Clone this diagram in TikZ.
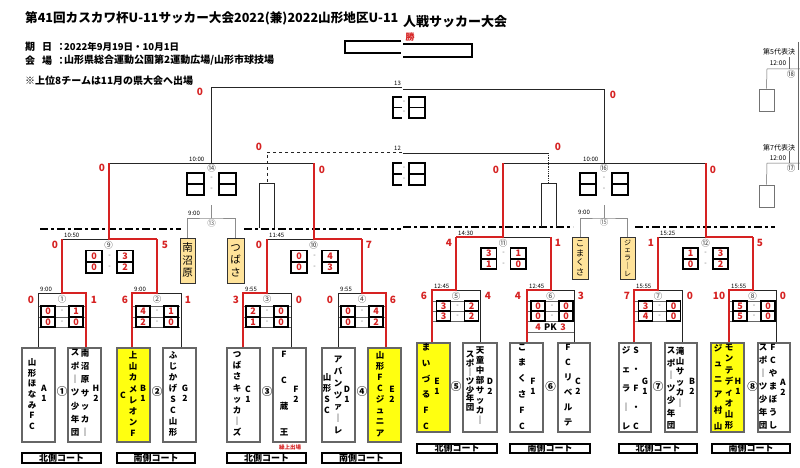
\documentclass[tikz,border=0pt]{standalone}
\usepackage{fontspec}
\setmainfont{Noto Sans CJK JP}
\definecolor{rd}{HTML}{D62222}
\definecolor{orng}{HTML}{FFE39A}
\definecolor{yel}{HTML}{FFFF10}
\newcounter{cc}
\newcommand\fs[2]{\fontsize{#1}{#2}\selectfont}
\newcommand\lsl{\lineskiplimit-20pt\lineskip0pt\relax}
\newcommand\scell[5]{\stepcounter{cc}\node[cellbox,minimum width={(#2)-(#1)},minimum height={(#4)-(#3)}] (c\arabic{cc}) at ({((#1)+(#2))/2},{((#3)+(#4))/2}) {#5};}
\newcommand\srow[7]{\scell{#1-#5}{#1-#4}{#2}{#3}{#6}\scell{#1+#4}{#1+#5}{#2}{#3}{#7}\stepcounter{cc}\node[dashm] (c\arabic{cc}) at (#1,{((#2)+(#3))/2}) {-};}
\newcommand\tbox[6]{\node[teambox,fill=#6,minimum width={(#3)-(#2)},minimum height={(#5)-(#4)}] (#1) at ({((#2)+(#3))/2},{((#4)+(#5))/2}) {};}
\newcommand\court[6]{\node[court,minimum width={(#3)-(#2)},minimum height={(#5)-(#4)}] (#1) at ({((#2)+(#3))/2},{((#4)+(#5))/2}) {#6};}
\begin{document}
\begin{tikzpicture}[x=1pt,y=-1pt,
 ln/.style={draw=black!85,line width=0.8pt},
 rl/.style={draw=rd,line width=2pt},
 gl/.style={draw=black!45,line width=0.8pt},
 thinl/.style={draw=black!60,line width=0.5pt},
 cellbox/.style={draw=black,line width=1.1pt,inner sep=0,text=rd,font=\bfseries\fs{9}{9}},
 dashm/.style={inner sep=0,font=\fs{7}{7},text=black!60},
 lab/.style={inner sep=0,text=rd,font=\bfseries\fs{10}{10}},
 tim/.style={inner sep=0,anchor=south west,font=\fs{6}{6}},
 cnum/.style={inner sep=0,font=\fs{8.5}{8.5},text=black!75},
 bnum/.style={inner sep=0,font=\bfseries\fs{10.5}{10.5}},
 teambox/.style={draw=black!60,line width=2pt,inner sep=0},
 vt/.style={align=center,inner sep=0,font=\bfseries\fs{8.5}{#1}\lsl},
 court/.style={draw=black,line width=1.6pt,inner sep=0,font=\bfseries\fs{9}{9}},
 obox/.style={draw=black!80,line width=0.8pt,fill=orng,inner sep=0,align=center},
 ddot/.style={line width=2pt,dash pattern=on 8pt off 3pt on 3pt off 3pt},
 info/.style={inner sep=0,anchor=west,font=\bfseries\fs{10}{10}},
 small/.style={inner sep=0,font=\fs{6.5}{6.5}}]
\useasboundingbox[fill=white] (0,0) rectangle (800,468);

% ---------- header ----------
\begin{scope}
\clip (0,0) rectangle (402,35);
\node[inner sep=0,anchor=west,font=\bfseries\fs{12.6}{12.6}] (title) at (25,18) {第41回カスカワ杯U-11サッカー大会2022(兼)2022山形地区U-11};
\end{scope}
\node[inner sep=0,anchor=west,font=\bfseries\fs{13}{13}] (title2) at (403,22) {人戦サッカー大会};
\node[info] (i1) at (25,47) {期};
\node[info] (i2) at (42,47) {日};
\node[info] (i3) at (56,47) {：};
\node[info,font=\bfseries\fs{9.5}{9.5}] (i4) at (64,47) {2022年9月19日・10月1日};
\node[info] (i5) at (25,60.5) {会};
\node[info] (i6) at (42,60.5) {場};
\node[info] (i7) at (56,60.5) {：};
\node[info] (i8) at (64,60.5) {山形県総合運動公園第2運動広場/山形市球技場};
\node[info] (i9) at (25,81) {※上位8チームは11月の県大会へ出場};
\draw[line width=2pt] (401,41.5) -- (345,41.5) -- (345,53.5) -- (401,53.5);
\draw[line width=2pt] (403,44) -- (472,44) -- (472,57) -- (403,57);
\node[inner sep=0,text=rd,font=\bfseries\fs{9}{9}] (win) at (410,37) {勝};

% ---------- coordinates ----------
\coordinate (m1L) at (38,293); \coordinate (m1C) at (62,293); \coordinate (m1R) at (86,293);
\coordinate (m2L) at (132,293); \coordinate (m2C) at (157,293); \coordinate (m2R) at (181,293);
\coordinate (m3L) at (243,293); \coordinate (m3C) at (267,293); \coordinate (m3R) at (291,293);
\coordinate (m4L) at (338,293); \coordinate (m4C) at (362,293); \coordinate (m4R) at (386,293);
\coordinate (m9L) at (62,239); \coordinate (m9C) at (108.5,239); \coordinate (m9R) at (157,239);
\coordinate (m10L) at (267,239); \coordinate (m10C) at (313.5,239); \coordinate (m10R) at (362,239);
\coordinate (m14L) at (108.5,163); \coordinate (m14C) at (211.5,163); \coordinate (m14R) at (313.5,163);
\coordinate (fL) at (211.5,87.5); \coordinate (fE) at (402,87.5);
\coordinate (tE) at (402,152); \coordinate (tL) at (267,152); \coordinate (tU) at (267,183);
\coordinate (tUa) at (259,183); \coordinate (tUb) at (274,183); \coordinate (tUa2) at (259,228); \coordinate (tUb2) at (274,228);
\coordinate (m5L) at (432,290); \coordinate (m5C) at (456,290); \coordinate (m5R) at (480,290);
\coordinate (m6L) at (527,290); \coordinate (m6C) at (550.5,290); \coordinate (m6R) at (574,290);
\coordinate (m7L) at (634,290); \coordinate (m7C) at (658,290); \coordinate (m7R) at (682,290);
\coordinate (m8L) at (729,290); \coordinate (m8C) at (752.5,290); \coordinate (m8R) at (776,290);
\coordinate (m11L) at (456,237); \coordinate (m11C) at (503,237); \coordinate (m11R) at (550.5,237);
\coordinate (m12L) at (658,237); \coordinate (m12C) at (705.5,237); \coordinate (m12R) at (752.5,237);
\coordinate (m16L) at (503,163); \coordinate (m16C) at (604,163); \coordinate (m16R) at (705.5,163);
\coordinate (gL) at (604,89.5); \coordinate (gE) at (402.5,89.5);
\coordinate (uE) at (402.5,153); \coordinate (uL) at (548,153); \coordinate (uU) at (548,183);
\coordinate (uUa) at (541,183); \coordinate (uUb) at (556,183); \coordinate (uUa2) at (541,227); \coordinate (uUb2) at (556,227);
\coordinate (m13) at (211.5,218); \coordinate (m13t) at (211.5,205);
\coordinate (m15) at (604,218); \coordinate (m15t) at (604,205);

% ---------- team boxes ----------
\tbox{t1l}{22}{55}{348}{442}{white}
\tbox{t1r}{68}{101}{348}{442}{white}
\tbox{t2l}{117}{150}{348}{442}{yel}
\tbox{t2r}{163}{196}{348}{442}{white}
\tbox{t3l}{227}{260}{348}{442}{white}
\tbox{t3r}{273}{306}{348}{442}{white}
\tbox{t4l}{322}{355}{348}{442}{white}
\tbox{t4r}{368}{401}{348}{442}{yel}
\tbox{t5l}{417}{450}{343}{432}{yel}
\tbox{t5r}{463}{497}{343}{432}{white}
\tbox{t6l}{510}{543}{343}{432}{white}
\tbox{t6r}{558}{590}{343}{432}{white}
\tbox{t7l}{619}{651}{343}{432}{white}
\tbox{t7r}{665}{697}{343}{432}{white}
\tbox{t8l}{711}{744}{343}{432}{yel}
\tbox{t8r}{758}{790}{343}{432}{white}

% team names
\node[vt=10.7] (n1a) at (32,394) {山\\形\\ほ\\な\\み\\F\\C};
\node[vt=10] (s1a) at (44,393) {A\\1};
\node[vt=13.3] (n1b) at (85,393) {南\\沼\\原\\サ\\ッ\\カ\\｜};
\node[vt=13.3] (n1c) at (75,393) {ス\\ポ\\｜\\ツ\\少\\年\\団};
\node[vt=10] (s1b) at (96,393) {H\\2};
\node[vt=11.1] (n2a) at (133,394) {上\\山\\カ\\メ\\レ\\オ\\ン\\F};
\node[vt=10] (n2b) at (123,395) {C};
\node[vt=10] (s2a) at (143,393) {B\\1};
\node[vt=11.1] (n2c) at (173,394) {ふ\\じ\\か\\げ\\S\\C\\山\\形};
\node[vt=10] (s2b) at (185,393) {G\\2};
\node[vt=11.1] (n3a) at (237,394) {つ\\ば\\さ\\キ\\ッ\\カ\\｜\\ズ};
\node[vt=10] (s3a) at (248,394) {C\\1};
\node[vt=26] (n3b) at (284,394) {F\\C\\蔵\\王};
\node[vt=10] (s3b) at (296,394) {F\\2};
\node[inner sep=0,text=rd,font=\bfseries\fs{5.5}{5.5}] (kuri) at (290,447) {繰上出場};
\node[vt=11.7] (n4a) at (338,395) {ア\\バ\\ン\\ツ\\ァ\\｜\\レ};
\node[vt=11] (n4b) at (327,393.5) {山\\形\\S\\C};
\node[vt=10] (s4a) at (347,394) {D\\1};
\node[vt=11.1] (n4c) at (380,394) {山\\形\\F\\C\\ジ\\ュ\\ニ\\ア};
\node[vt=10] (s4b) at (392,394) {E\\2};

\node[vt=15.8] (n5a) at (426,386.5) {ま\\い\\づ\\る\\F\\C};
\node[vt=10] (s5a) at (437,386) {E\\1};
\node[vt=9.9] (n5b) at (480,385.5) {天\\童\\中\\部\\サ\\ッ\\カ\\｜};
\node[vt=8.8] (n5c) at (470,381.5) {ス\\ポ\\｜\\ツ\\少\\年\\団};
\node[vt=10] (s5b) at (490,386) {D\\2};
\node[vt=15.8] (n6a) at (522,386.5) {こ\\ま\\く\\さ\\F\\C};
\node[vt=10] (s6a) at (533,386) {F\\1};
\node[vt=15] (n6b) at (568,385.5) {F\\C\\リ\\ベ\\ル\\テ};
\node[vt=10] (s6b) at (578,386) {C\\2};
\node[vt=19] (n7a) at (626,388) {ジ\\ェ\\ラ\\｜\\レ};
\node[vt=19] (n7b) at (636,388) {S\\・\\F\\・\\C};
\node[vt=10] (s7a) at (645,386) {G\\1};
\node[vt=10.4] (n7c) at (680,377) {滝\\山\\サ\\ッ\\カ\\｜};
\node[vt=12.5] (n7d) at (671,388.5) {ス\\ポ\\｜\\ツ\\少\\年\\団};
\node[vt=10] (s7b) at (692,386) {B\\2};
\node[vt=11.1] (n8a) at (729,387) {モ\\ン\\テ\\デ\\ィ\\オ\\山\\形};
\node[vt=15.6] (n8b) at (718,387) {ジ\\ュ\\ニ\\ア\\村\\山};
\node[vt=10] (s8a) at (738,386) {H\\1};
\node[vt=13] (n8c) at (773,387) {F\\C\\や\\ま\\ぼ\\う\\し};
\node[vt=13] (n8d) at (763,387) {ス\\ポ\\｜\\ツ\\少\\年\\団};
\node[vt=10] (s8b) at (783,387) {A\\2};

% big circled numbers
\node[bnum] (b1) at (62,392) {①};
\node[bnum] (b2) at (157,392) {②};
\node[bnum] (b3) at (267,392) {③};
\node[bnum] (b4) at (362,392) {④};
\node[bnum] (b5) at (456,387) {⑤};
\node[bnum] (b6) at (550.5,387) {⑥};
\node[bnum] (b7) at (658,387) {⑦};
\node[bnum] (b8) at (752.5,387) {⑧};

% court labels
\court{k1}{22}{101}{453}{463}{北側コート}
\court{k2}{117}{195}{453}{463}{南側コート}
\court{k3}{227}{306}{453}{463}{北側コート}
\court{k4}{322}{401}{453}{463}{南側コート}
\court{k5}{417}{497}{444}{453}{北側コート}
\court{k6}{510}{590}{444}{453}{南側コート}
\court{k7}{619}{697}{444}{453}{北側コート}
\court{k8}{712}{790}{444}{453}{南側コート}

% ---------- match box rows ----------
\foreach \cx in {38,132,243,338} {\foreach \yy in {306,317,327} \draw[thinl] (\cx,\yy) -- (\cx+48,\yy);}
\foreach \cx in {432,527,634,729} {\foreach \yy in {301,311,321} \draw[thinl] (\cx,\yy) -- (\cx+47,\yy);}
\draw[thinl] (527,332) -- (574,332);

% ---------- dash-dot lines ----------
\draw[ddot] (40,229) -- (181,229);
\draw[ddot] (244,229) -- (401,229);
\draw[ddot] (403,227) -- (573,227);
\draw[ddot] (635,227) -- (775,227);

% ---------- black bracket lines ----------
\draw[ln] (m1L|-t1l.north) -- (m1L) -- (m1C);
\draw[ln] (m2R|-t2r.north) -- (m2R) -- (m2C);
\draw[ln] (m3R|-t3r.north) -- (m3R) -- (m3C);
\draw[ln] (m4L|-t4l.north) -- (m4L) -- (m4C);
\draw[ln] (m9L) -- (m9C);
\draw[ln] (m10L) -- (m10C);
\draw[ln] (m14L) -- (m14R);
\draw[ln] (m14C) -- (fL) -- (fE);
\draw[ln,dashed] (tE) -- (tL) -- (tU);
\draw[ln] (tUa2) -- (tUa) -- (tUb) -- (tUb2);
\draw[ln] (m5R|-t5r.north) -- (m5R) -- (m5C);
\draw[ln] (m6R|-t6r.north) -- (m6R) -- (m6C);
\draw[ln] (m7R|-t7r.north) -- (m7R) -- (m7C);
\draw[ln] (m8R|-t8r.north) -- (m8R) -- (m8C);
\draw[ln] (m11R) -- (m11C);
\draw[ln] (m12L) -- (m12C);
\draw[ln] (m16L) -- (m16R);
\draw[ln] (m16C) -- (gL) -- (gE);
\draw[ln] (uE) -- (uL);
\draw[ln,densely dotted] (uL) -- (uU);
\draw[ln] (uUa2) -- (uUa) -- (uUb) -- (uUb2);

% ---------- red winner lines ----------
\draw[rl] (m1R|-t1r.north) -- (m1R) -- (m1C) -- (m9L);
\draw[rl] (m2L|-t2l.north) -- (m2L) -- (m2C) -- (m9R);
\draw[rl] (m3L|-t3l.north) -- (m3L) -- (m3C) -- (m10L);
\draw[rl] (m4R|-t4r.north) -- (m4R) -- (m4C) -- (m10R);
\draw[rl] (m9R) -- (m9C) -- (m14L);
\draw[rl] (m10R) -- (m10C) -- (m14R);
\draw[rl] (m5L|-t5l.north) -- (m5L) -- (m5C) -- (m11L);
\draw[rl] (m6L|-t6l.north) -- (m6L) -- (m6C) -- (m11R);
\draw[rl] (m7L|-t7l.north) -- (m7L) -- (m7C) -- (m12L);
\draw[rl] (m8L|-t8l.north) -- (m8L) -- (m8C) -- (m12R);
\draw[rl] (m11L) -- (m11C) -- (m16L);
\draw[rl] (m12R) -- (m12C) -- (m16R);

% ---------- consolation (13, 15) ----------
\node[obox,minimum width=15,minimum height=45,font=\fs{10.5}{12.5}\lsl] (o1) at (187.5,260.5) {南\\沼\\原};
\node[obox,minimum width=17,minimum height=45,font=\fs{10.5}{12.5}\lsl] (o2) at (235.5,260.5) {つ\\ば\\さ};
\node[obox,minimum width=16,minimum height=42,font=\fs{8.5}{9.5}\lsl] (o3) at (580,258) {こ\\ま\\く\\さ};
\node[obox,minimum width=15,minimum height=42,font=\fs{7}{7.8}\lsl] (o4) at (627.5,258) {ジ\\ェ\\ラ\\｜\\レ};
\draw[gl] (o1.north) |- (m13) -| (o2.north);
\draw[gl] (m13) -- (m13t);
\draw[gl] (o3.north) |- (m15) -| (o4.north);
\draw[gl] (m15) -- (m15t);
\node[tim] (tm13) at (188,215.5) {9:00};
\node[tim] (tm15) at (578,214.5) {9:00};
\node[cnum,text=black!55] (c13) at (211.5,223) {⑬};
\node[cnum,text=black!55] (c15) at (604,222) {⑮};

% ---------- score cells ----------
\srow{62}{306}{317}{7}{21}{0}{1}
\srow{62}{317}{327}{7}{21}{0}{0}
\srow{157}{306}{317}{7}{21}{4}{1}
\srow{157}{317}{327}{7}{21}{2}{0}
\srow{267}{306}{317}{7}{21}{2}{0}
\srow{267}{317}{327}{7}{21}{1}{0}
\srow{362}{306}{317}{7}{21}{0}{4}
\srow{362}{317}{327}{7}{21}{0}{2}
\srow{109.5}{250.5}{262}{7.5}{23.5}{0}{3}
\srow{109.5}{262}{273}{7.5}{23.5}{0}{2}
\srow{314.5}{250.5}{262}{7.5}{23.5}{0}{4}
\srow{314.5}{262}{273}{7.5}{23.5}{0}{3}
\srow{211.5}{173}{184}{7.5}{24.5}{}{}
\srow{211.5}{184}{195}{7.5}{24.5}{}{}
\srow{457.5}{301}{311}{7}{21}{3}{2}
\srow{457.5}{311}{321}{7}{21}{3}{2}
\srow{552}{301}{311}{7}{21}{0}{0}
\srow{552}{311}{321}{7}{21}{0}{0}
\srow{659.5}{301}{311}{7}{21}{3}{0}
\srow{659.5}{311}{321}{7}{21}{4}{0}
\srow{754}{301}{311}{7}{21}{5}{0}
\srow{754}{311}{321}{7}{21}{5}{0}
\srow{503.5}{248}{259}{7}{22.5}{3}{1}
\srow{503.5}{259}{269}{7}{22.5}{1}{0}
\srow{705.5}{248}{259}{7.5}{22.5}{1}{3}
\srow{705.5}{259}{269}{7.5}{22.5}{0}{2}
\srow{604}{173}{184}{8}{24}{}{}
\srow{604}{184}{195}{8}{24}{}{}
% final / 3rd-place cells cut by the seam
\scell{409}{425}{97}{107.5}{}
\scell{409}{425}{107.5}{118}{}
\scell{409}{425}{163}{174}{}
\scell{409}{425}{174}{185}{}
\draw[line width=1.1pt] (402,97) -- (393,97) -- (393,118) -- (402,118);
\draw[line width=1.1pt] (393,107.5) -- (402,107.5);
\draw[line width=1.1pt] (402,163) -- (393,163) -- (393,185) -- (402,185);
\draw[line width=1.1pt] (393,174) -- (402,174);
\node[dashm] (dm1) at (404,102) {-};
\node[dashm] (dm2) at (404,112.5) {-};
\node[dashm] (dm3) at (404,168.5) {-};
\node[dashm] (dm4) at (404,179.5) {-};
\node[lab,font=\bfseries\fs{9}{9}] (pk1) at (538,327) {4};
\node[inner sep=0,font=\bfseries\fs{9}{9}] (pk) at (550.5,327) {PK};
\node[lab,font=\bfseries\fs{9}{9}] (pk2) at (563,327) {3};

% ---------- score labels ----------
\node[lab] (l1a) at (31,300) {0}; \node[lab] (l1b) at (94,300) {1};
\node[lab] (l2a) at (125,300) {6}; \node[lab] (l2b) at (188,300) {1};
\node[lab] (l3a) at (236,300) {3}; \node[lab] (l3b) at (299,300) {0};
\node[lab] (l4a) at (330,300) {0}; \node[lab] (l4b) at (393,300) {6};
\node[lab] (l9a) at (55,245) {0}; \node[lab] (l9b) at (165,245) {5};
\node[lab] (l10a) at (259,245) {0}; \node[lab] (l10b) at (369,245) {7};
\node[lab] (l14a) at (102,168) {0}; \node[lab] (l14b) at (322,170) {0};
\node[lab] (lf) at (200,92) {0}; \node[lab] (lt) at (259,147) {0};
\node[lab] (l5a) at (424,296) {6}; \node[lab] (l5b) at (488,296) {4};
\node[lab] (l6a) at (518,296) {4}; \node[lab] (l6b) at (581,296) {3};
\node[lab] (l7a) at (627,296) {7}; \node[lab] (l7b) at (690,296) {0};
\node[lab] (l8a) at (719,296) {10}; \node[lab] (l8b) at (783,296) {0};
\node[lab] (l11a) at (449,243) {4}; \node[lab] (l11b) at (558,243) {1};
\node[lab] (l12a) at (651,243) {1}; \node[lab] (l12b) at (760,243) {5};
\node[lab] (l16a) at (496,170) {0}; \node[lab] (l16b) at (713,170) {0};
\node[lab] (lg) at (613,95) {0}; \node[lab] (lu) at (558,147) {0};

% ---------- times ----------
\node[tim] (tm1) at (40,291.5) {9:00};
\node[tim] (tm2) at (134,291.5) {9:00};
\node[tim] (tm3) at (245,291.5) {9:55};
\node[tim] (tm4) at (340,291.5) {9:55};
\node[tim] (tm9) at (64,237.5) {10:50};
\node[tim] (tm10) at (269,237.5) {11:45};
\node[tim] (tm14) at (189,161.5) {10:00};
\node[tim] (tmf) at (394,85.5) {13};
\node[tim] (tmt) at (394,150.5) {12};
\node[tim] (tm5) at (434,288.5) {12:45};
\node[tim] (tm6) at (529,288.5) {12:45};
\node[tim] (tm7) at (636,288.5) {15:55};
\node[tim] (tm8) at (731,288.5) {15:55};
\node[tim] (tm11) at (458,235.5) {14:30};
\node[tim] (tm12) at (660,235.5) {15:25};
\node[tim] (tm16) at (583,161.5) {10:00};

% ---------- bracket circled numbers ----------
\node[cnum] (c1) at (62,299) {①};
\node[cnum] (c2) at (157,299) {②};
\node[cnum] (c3) at (267,299) {③};
\node[cnum] (c4) at (362,299) {④};
\node[cnum] (c9) at (108.5,245) {⑨};
\node[cnum] (c10) at (313.5,245) {⑩};
\node[cnum] (c14) at (211.5,168) {⑭};
\node[cnum] (c5) at (456,296) {⑤};
\node[cnum] (c6) at (550.5,296) {⑥};
\node[cnum] (c7) at (658,296) {⑦};
\node[cnum] (c8) at (752.5,296) {⑧};
\node[cnum] (c11) at (503,243) {⑪};
\node[cnum] (c12) at (705.5,243) {⑫};
\node[cnum] (c16) at (604,168) {⑯};

% ---------- placement matches (top right) ----------
\coordinate (p5a) at (767,69); \coordinate (p5b) at (800,69); \coordinate (p5t) at (789,57);
\coordinate (p7a) at (767,163); \coordinate (p7b) at (800,163); \coordinate (p7t) at (789,151);
\node[small,anchor=west,font=\fs{7}{7}] (p5l) at (763,52) {第5代表決};
\node[small] (p5tm) at (778,63) {12:00};
\node[draw=black!55,line width=0.6pt,minimum width=15,minimum height=22,inner sep=0] (p5box) at (766.5,100) {};
\draw[thinl] (p5b) -- (p5a) -- (p5box.north);
\draw[thinl] (p5t) -- (p5t|-p5a);
\node[cnum] (c18) at (791,74) {⑱};
\node[small,anchor=west,font=\fs{7}{7}] (p7l) at (763,148) {第7代表決};
\node[small] (p7tm) at (778,158.5) {12:00};
\node[draw=black!55,line width=0.6pt,minimum width=15,minimum height=22,inner sep=0] (p7box) at (766.5,196) {};
\draw[thinl] (p7b) -- (p7a) -- (p7box.north);
\draw[thinl] (p7t) -- (p7t|-p7a);
\node[cnum] (c17) at (791,168) {⑰};
\draw[thinl] (798,42) -- (798,170);
\end{tikzpicture}
\end{document}
